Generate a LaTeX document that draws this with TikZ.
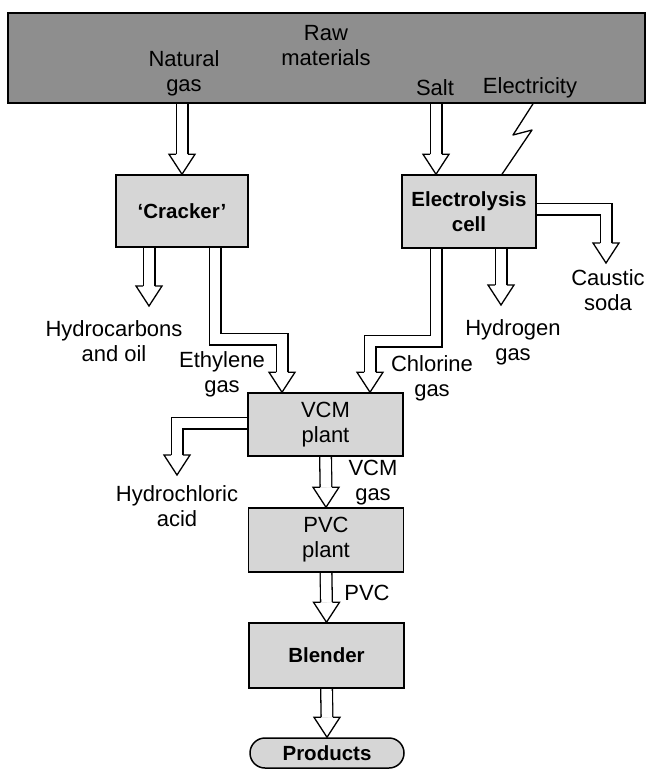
\documentclass[tikz,border=0pt]{standalone}
\usepackage{fontspec}
\setmainfont{Liberation Sans}
\usetikzlibrary{calc, backgrounds}

\definecolor{rawgray}{HTML}{8E8E8E}
\definecolor{boxgray}{HTML}{D6D6D6}

\tikzset{
  box/.style={draw, line width=1.5pt, fill=boxgray, align=center, inner sep=0pt,
    font=\fontsize{20.5}{25}\selectfont\bfseries},
  plainbox/.style={box, font=\fontsize{22}{25}\selectfont},
  lbl/.style={align=center, inner sep=0pt, font=\fontsize{22}{25}\selectfont},
  pipe/.style={line width=1.3pt, double=white, double distance=10.4pt},
  hollowtip/.pic={
    \filldraw[fill=white, line width=1.3pt, line join=miter]
      (-5.85,-20) -- (-13,-20) -- (0,0) -- (13,-20) -- (5.85,-20);
  }
}

\begin{document}
\begin{tikzpicture}[x=1pt, y=-1pt, line join=miter]
    \useasboundingbox (0,0) rectangle (647,770);
    % boxes
    \node[draw, line width=1.6pt, fill=rawgray, minimum width=637pt, minimum height=90pt] (raw) at (326.5,58) {};
    \node[box, minimum width=132pt, minimum height=72pt] (cracker) at (182,211) {`Cracker'};
    \node[box, minimum width=134pt, minimum height=73pt] (elec) at (469,211.5) {Electrolysis\\cell};
    \node[plainbox, minimum width=155pt, minimum height=63pt] (vcm) at (325.5,424.5) {VCM\\plant};
    \node[plainbox, minimum width=155pt, minimum height=64pt] (pvc) at (326,540) {PVC\\plant};
    \node[box, minimum width=155pt, minimum height=65pt] (blender) at (326.5,655.5) {Blender};
    \node[box, rounded corners=15pt, minimum width=154pt, minimum height=30pt] (products) at (327,753) {Products};
    % labels
    \node[lbl] (rawlbl) at (326,46) {Raw\\materials};
    \node[lbl] (ng) at (184,73) {Natural\\gas};
    \node[lbl] (salt) at (435,88) {Salt};
    \node[lbl] (power) at (530,88) {Electricity};
    \node[lbl] (hc) at (114,341) {Hydrocarbons\\and oil};
    \node[lbl] (eth) at (222,374) {Ethylene\\gas};
    \node[lbl] (chl) at (432,378) {Chlorine\\gas};
    \node[lbl] (hyd) at (513,342) {Hydrogen\\gas};
    \node[lbl] (soda) at (608,290) {Caustic\\soda};
    \node[lbl] (hcl) at (177,506) {Hydrochloric\\acid};
    \node[lbl] (vcmgas) at (373,483) {VCM\\gas};
    \node[lbl] (pvclbl) at (367,593) {PVC};
    % tips
    \coordinate (salttip) at (436,0 |- elec.north);
    \coordinate (hctip) at (149,306);
    \coordinate (ethtip) at (282,0 |- vcm.north);
    \coordinate (chltip) at (370,0 |- vcm.north);
    \coordinate (hydtip) at (501,305);
    \coordinate (sodatip) at (606,263);
    \coordinate (hcltip) at (177,475);
    % pipes
    \begin{scope}[on background layer]
      \fill[white] (0,0) rectangle (647,770);
      \draw[pipe] (raw.south -| cracker.north) -- ($(cracker.north)+(0,-20)$);
      \draw[pipe] (raw.south -| salttip) -- ($(salttip)+(0,-20)$);
      \draw[pipe] (cracker.south -| hctip) -- ($(hctip)+(0,-20)$);
      \draw[pipe] (215,0 |- cracker.south) -- (215,339) -- (282,339) -- ($(ethtip)+(0,-20)$);
      \draw[pipe] (436,0 |- elec.south) -- (436,341) -- (370,341) -- ($(chltip)+(0,-20)$);
      \draw[pipe] (elec.south -| hydtip) -- ($(hydtip)+(0,-20)$);
      \draw[pipe] (elec.east |- 0,209) -- (606,209) -- ($(sodatip)+(0,-20)$);
      \draw[pipe] (vcm.west |- 0,423) -- (177,423) -- ($(hcltip)+(0,-20)$);
      \draw[pipe] (vcm.south) -- ($(pvc.north)+(0,-20)$);
      \draw[pipe] (pvc.south) -- ($(blender.north)+(0,-20)$);
      \draw[pipe] (blender.south) -- ($(products.north)+(0,-20)$);
    \end{scope}
    \foreach \t in {cracker.north, salttip, hctip, ethtip, chltip, hydtip, sodatip, hcltip, pvc.north, blender.north, products.north} {
      \pic at (\t) {hollowtip};
    }
    % electricity
    \draw[line width=1.3pt, line join=round] (533,0 |- raw.south) -- (513,135) -- (532,130) -- (502,0 |- elec.north);
\end{tikzpicture}
\end{document}
